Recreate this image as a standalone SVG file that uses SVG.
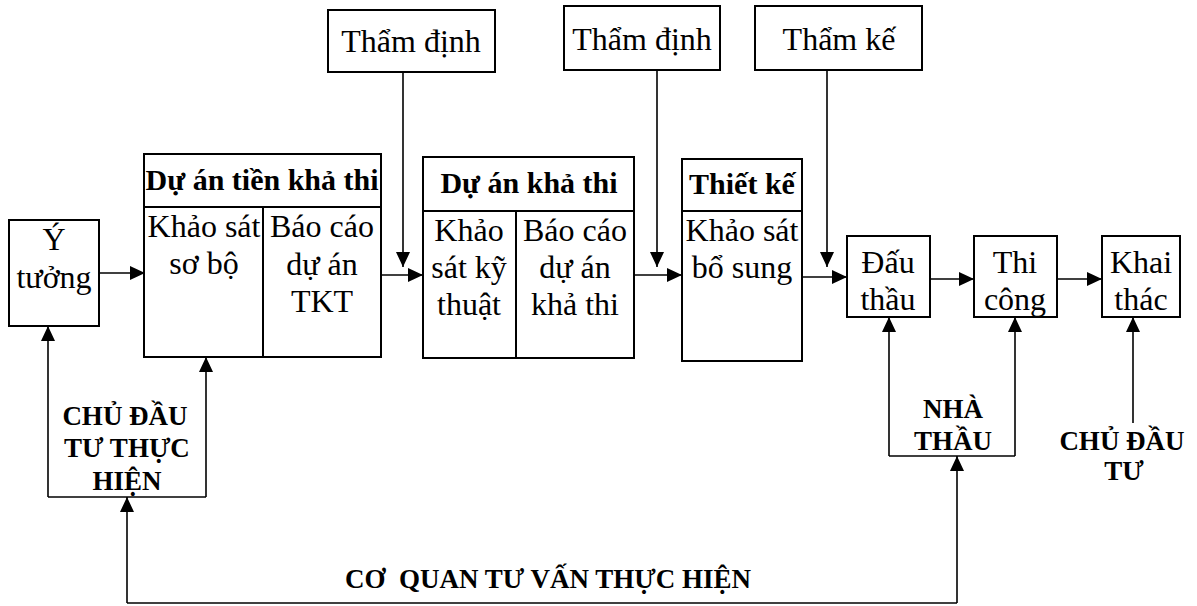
<svg xmlns="http://www.w3.org/2000/svg" width="1197" height="606" viewBox="0 0 1197 606">
<style>
.box{fill:#fff;stroke:#000;stroke-width:2}
.ln{fill:none;stroke:#000;stroke-width:1.6}
.t{font-family:"Liberation Serif","Times New Roman",serif;font-size:32px;fill:#000;text-anchor:middle}
.b{font-family:"Liberation Serif","Times New Roman",serif;font-size:30px;font-weight:bold;fill:#000;text-anchor:middle}
.c{font-family:"Liberation Serif","Times New Roman",serif;font-size:27px;font-weight:bold;fill:#000;text-anchor:middle}
</style>
<defs>
<marker id="ah" markerUnits="userSpaceOnUse" markerWidth="16" markerHeight="14" refX="15" refY="7" orient="auto">
<path d="M0,0 L15,7 L0,14 z" fill="#000"/>
</marker>
</defs>
<rect width="1197" height="606" fill="#fff"/>

<g id="connectors">
<line class="ln" x1="99" y1="273" x2="145" y2="273" marker-end="url(#ah)"/>
<line class="ln" x1="381" y1="275" x2="423" y2="275" marker-end="url(#ah)"/>
<line class="ln" x1="403" y1="72" x2="403" y2="267" marker-end="url(#ah)"/>
<line class="ln" x1="634" y1="275" x2="682" y2="275" marker-end="url(#ah)"/>
<line class="ln" x1="657" y1="70" x2="657" y2="267" marker-end="url(#ah)"/>
<line class="ln" x1="802" y1="277" x2="847" y2="277" marker-end="url(#ah)"/>
<line class="ln" x1="827" y1="70" x2="827" y2="267" marker-end="url(#ah)"/>
<line class="ln" x1="930" y1="279" x2="974" y2="279" marker-end="url(#ah)"/>
<line class="ln" x1="1057" y1="279" x2="1102" y2="279" marker-end="url(#ah)"/>
<line class="ln" x1="48" y1="497" x2="206" y2="497"/>
<line class="ln" x1="48" y1="497" x2="48" y2="326" marker-end="url(#ah)"/>
<line class="ln" x1="206" y1="497" x2="206" y2="357" marker-end="url(#ah)"/>
<polyline class="ln" points="127,603 957,603"/>
<line class="ln" x1="127" y1="603" x2="127" y2="497" marker-end="url(#ah)"/>
<line class="ln" x1="957" y1="603" x2="957" y2="456" marker-end="url(#ah)"/>
<line class="ln" x1="889" y1="456" x2="1015" y2="456"/>
<line class="ln" x1="889" y1="456" x2="889" y2="317" marker-end="url(#ah)"/>
<line class="ln" x1="1015" y1="456" x2="1015" y2="317" marker-end="url(#ah)"/>
<line class="ln" x1="1133" y1="423" x2="1133" y2="317" marker-end="url(#ah)"/>
</g>

<g id="y-tuong">
<rect class="box" x="9" y="220" width="90" height="106"/>
<text class="t" x="54" y="250">Ý</text>
<text class="t" x="54" y="288">tưởng</text>
</g>

<g id="du-an-tien-kha-thi">
<rect class="box" x="144" y="154" width="237" height="53"/>
<rect class="box" x="144" y="207" width="237" height="150"/>
<line class="ln" x1="263" y1="207" x2="263" y2="357" style="stroke-width:2"/>
<text class="b" x="262" y="190">Dự án tiền khả thi</text>
<text class="t" x="204" y="237">Khảo sát</text>
<text class="t" x="204" y="274">sơ bộ</text>
<text class="t" x="322" y="237">Báo cáo</text>
<text class="t" x="322" y="275">dự án</text>
<text class="t" x="322" y="312">TKT</text>
</g>

<g id="tham-dinh-1">
<rect class="box" x="328" y="10" width="167" height="62"/>
<text class="t" x="411" y="52">Thẩm định</text>
</g>

<g id="du-an-kha-thi">
<rect class="box" x="423" y="157" width="211" height="54"/>
<rect class="box" x="423" y="211" width="211" height="147"/>
<line class="ln" x1="516" y1="211" x2="516" y2="358" style="stroke-width:2"/>
<text class="b" x="529" y="193">Dự án khả thi</text>
<text class="t" x="469" y="241">Khảo</text>
<text class="t" x="469" y="278">sát kỹ</text>
<text class="t" x="469" y="315">thuật</text>
<text class="t" x="575" y="241">Báo cáo</text>
<text class="t" x="575" y="278">dự án</text>
<text class="t" x="575" y="315">khả thi</text>
</g>

<g id="tham-dinh-2">
<rect class="box" x="564" y="6" width="156" height="64"/>
<text class="t" x="642" y="50">Thẩm định</text>
</g>

<g id="thiet-ke">
<rect class="box" x="682" y="159" width="120" height="52"/>
<rect class="box" x="682" y="211" width="120" height="150"/>
<text class="b" x="742" y="194">Thiết kế</text>
<text class="t" x="742" y="241">Khảo sát</text>
<text class="t" x="742" y="278">bổ sung</text>
</g>

<g id="tham-ke">
<rect class="box" x="755" y="6" width="167" height="64"/>
<text class="t" x="839" y="50">Thẩm kế</text>
</g>

<g id="dau-thau">
<rect class="box" x="847" y="236" width="83" height="81"/>
<text class="t" x="888" y="273">Đấu</text>
<text class="t" x="888" y="310">thầu</text>
</g>

<g id="thi-cong">
<rect class="box" x="974" y="236" width="83" height="81"/>
<text class="t" x="1015" y="273">Thi</text>
<text class="t" x="1015" y="310">công</text>
</g>

<g id="khai-thac">
<rect class="box" x="1102" y="236" width="78" height="81"/>
<text class="t" x="1141" y="273">Khai</text>
<text class="t" x="1141" y="310">thác</text>
</g>

<g id="chu-dau-tu-thuc-hien">
<text class="c" x="125" y="425">CHỦ ĐẦU</text>
<text class="c" x="127" y="457">TƯ THỰC</text>
<text class="c" x="127" y="490">HIỆN</text>
</g>

<g id="nha-thau">
<text class="c" x="953" y="418">NHÀ</text>
<text class="c" x="953" y="450">THẦU</text>
</g>

<g id="chu-dau-tu">
<text class="c" x="1122" y="450">CHỦ ĐẦU</text>
<text class="c" x="1124" y="480">TƯ</text>
</g>

<g id="co-quan-tu-van">
<text class="c" x="548" y="588" xml:space="preserve">CƠ  QUAN TƯ VẤN THỰC HIỆN</text>
</g>
</svg>
